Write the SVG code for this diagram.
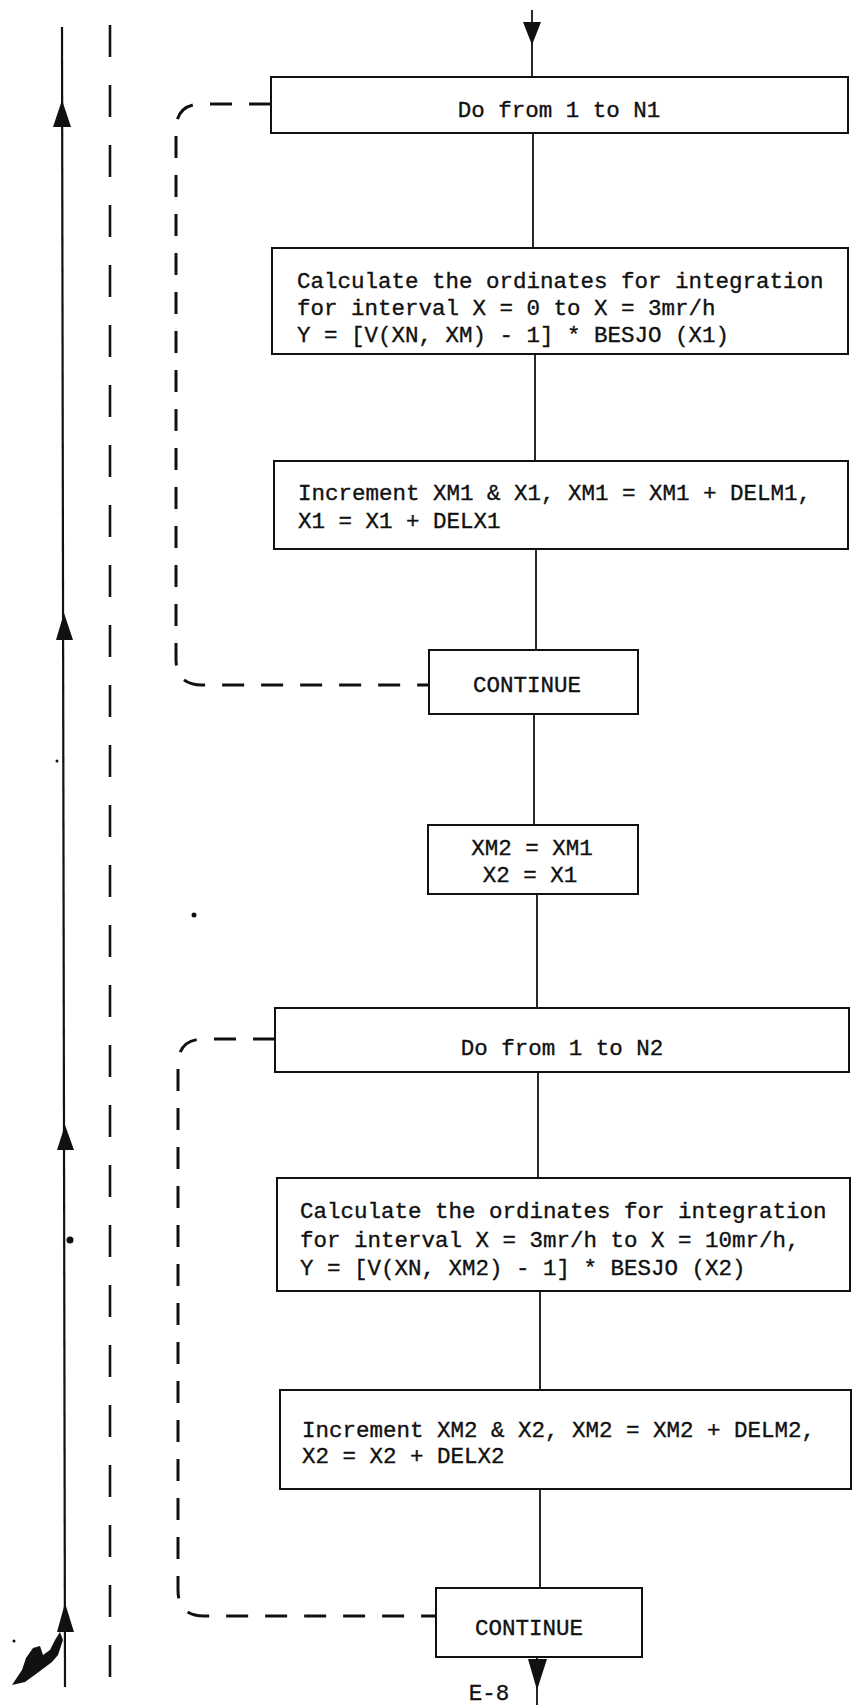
<svg xmlns="http://www.w3.org/2000/svg" width="852" height="1705" viewBox="0 0 852 1705">
<style>
.box{fill:#fff;stroke:#111;stroke-width:2}
.t{font-family:"Liberation Mono","DejaVu Sans Mono",monospace;font-size:22.5px;fill:#111;stroke:#111;stroke-width:0.35}
.c{text-anchor:middle}
.flow{stroke:#111;stroke-width:1.8;fill:none}
.loop{stroke:#111;stroke-width:3;fill:none;stroke-dasharray:22 17}
.head{fill:#111}
</style>
<rect width="852" height="1705" fill="#fff"/>
<g id="connectors">
  <line class="flow" x1="532" y1="10" x2="532" y2="77"/>
  <polygon class="head" points="523,22 541,22 532,45"/>
  <line class="flow" x1="533" y1="133" x2="533" y2="248"/>
  <line class="flow" x1="535" y1="354" x2="535" y2="461"/>
  <line class="flow" x1="536" y1="549" x2="536" y2="650"/>
  <line class="flow" x1="534" y1="714" x2="534" y2="825"/>
  <line class="flow" x1="537" y1="894" x2="537" y2="1008"/>
  <line class="flow" x1="538" y1="1072" x2="538" y2="1178"/>
  <line class="flow" x1="540" y1="1291" x2="540" y2="1390"/>
  <line class="flow" x1="540" y1="1489" x2="540" y2="1588"/>
  <line class="flow" x1="537" y1="1657" x2="537" y2="1705"/>
  <polygon class="head" points="528,1659 547,1659 537,1690"/>
  <line stroke="#111" stroke-width="2.2" x1="62" y1="27" x2="65" y2="1687"/>
  <polygon class="head" points="62,100 53,127 71,127"/>
  <polygon class="head" points="64,613 56,640 73,640"/>
  <polygon class="head" points="65,1125 57,1150 74,1150"/>
  <polygon class="head" points="65,1603 57,1632 74,1632"/>
  <line stroke="#111" stroke-width="2.6" stroke-dasharray="32 28" x1="110" y1="25" x2="110" y2="1689"/>
  <path class="loop" d="M271,104 H202 Q176,104 176,130 V659 Q176,685 202,685 H429"/>
  <path class="loop" d="M275,1039 H204 Q178,1039 178,1065 V1590 Q178,1616 204,1616 H436"/>
</g>
<g id="n1"><rect class="box" x="271" y="77" width="577" height="56"/><text class="t c" x="559" y="117">Do from 1 to N1</text></g>
<g id="n2"><rect class="box" x="272" y="248" width="576" height="106"/>
  <text class="t" x="297" y="288">Calculate the ordinates for integration</text>
  <text class="t" x="297" y="315">for interval X = 0 to X = 3mr/h</text>
  <text class="t" x="297" y="342">Y = [V(XN, XM) - 1] * BESJO (X1)</text></g>
<g id="n3"><rect class="box" x="274" y="461" width="574" height="88"/>
  <text class="t" x="298" y="500">Increment XM1 &amp; X1, XM1 = XM1 + DELM1,</text>
  <text class="t" x="298" y="528">X1 = X1 + DELX1</text></g>
<g id="n4"><rect class="box" x="429" y="650" width="209" height="64"/><text class="t c" x="527" y="692">CONTINUE</text></g>
<g id="n5"><rect class="box" x="428" y="825" width="210" height="69"/>
  <text class="t c" x="532" y="855">XM2 = XM1</text>
  <text class="t c" x="530" y="882">X2 = X1</text></g>
<g id="n6"><rect class="box" x="275" y="1008" width="574" height="64"/><text class="t c" x="562" y="1055">Do from 1 to N2</text></g>
<g id="n7"><rect class="box" x="277" y="1178" width="573" height="113"/>
  <text class="t" x="300" y="1218">Calculate the ordinates for integration</text>
  <text class="t" x="300" y="1247">for interval X = 3mr/h to X = 10mr/h,</text>
  <text class="t" x="300" y="1275">Y = [V(XN, XM2) - 1] * BESJO (X2)</text></g>
<g id="n8"><rect class="box" x="280" y="1390" width="571" height="99"/>
  <text class="t" x="302" y="1437">Increment XM2 &amp; X2, XM2 = XM2 + DELM2,</text>
  <text class="t" x="302" y="1463">X2 = X2 + DELX2</text></g>
<g id="n9"><rect class="box" x="436" y="1588" width="206" height="69"/><text class="t c" x="529" y="1635">CONTINUE</text></g>
<g id="label"><text class="t c" x="489" y="1700">E-8</text></g>
<g id="specks" fill="#111">
  <circle cx="70" cy="1240" r="3.5"/>
  <circle cx="194" cy="915" r="2.5"/>
  <circle cx="57" cy="761" r="1.5"/>
  <path d="M12,1685 L22,1670 L26,1658 L33,1648 L40,1646 L43,1655 L50,1650 L55,1640 L60,1632 L63,1640 L58,1655 L52,1662 L44,1668 L36,1674 L25,1682 Z"/>
  <circle cx="14" cy="1641" r="1.5"/>
</g>
</svg>
